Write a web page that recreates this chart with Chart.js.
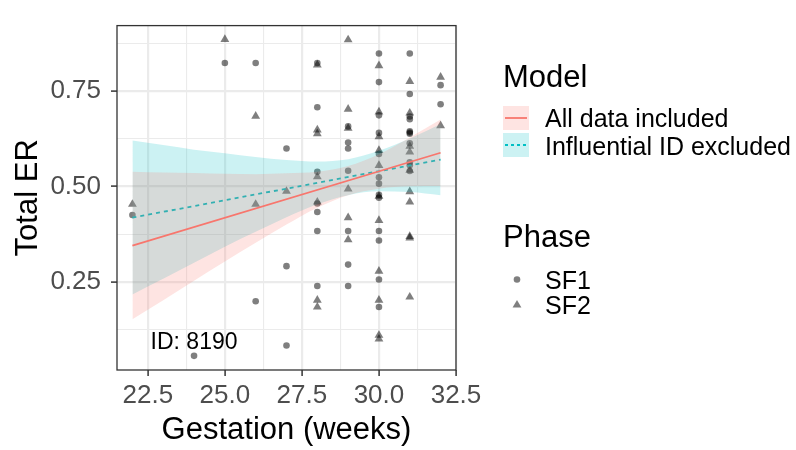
<!DOCTYPE html>
<html><head><meta charset="utf-8">
<script src="https://cdn.jsdelivr.net/npm/chart.js@4.4.1/dist/chart.umd.min.js"></script>
<style>html,body{margin:0;padding:0;background:#fff;}#c{display:block;}</style>
</head><body>
<canvas id="c" width="796" height="450"></canvas>
<script>
// ---------- data ----------
const sf1Gestation = [22,24,25,26,26,27,27,27,
  28,28,28,28,28,28,28,
  29,29,29,29,29,29,29,
  30,30,30,30,30,30,30,30,30,30,30,30,30,
  31,31,31,31,31,31,31,31,31,31,31,
  32,32];
const sf1ER = [0.425,0.056,0.823,0.823,0.199,0.599,0.291,0.083,
  0.823,0.707,0.538,0.455,0.433,0.383,0.239,
  0.657,0.615,0.599,0.541,0.383,0.295,0.239,
  0.848,0.773,0.686,0.640,0.585,0.524,0.507,0.478,0.470,0.383,0.358,0.256,0.184,
  0.848,0.742,0.683,0.676,0.644,0.641,0.638,0.613,0.563,0.555,0.540,
  0.765,0.715];

const sf2Gestation = [22,25,26,26,27,
  28,28,28,28,28,28,28,
  29,29,29,29,29,29,
  30,30,30,30,30,30,30,30,30,30,30,
  31,31,31,31,31,31,31,31,31,31,
  32,32];
const sf2ER = [0.453,0.885,0.684,0.453,0.487,
  0.818,0.648,0.638,0.525,0.459,0.202,0.184,
  0.884,0.702,0.652,0.493,0.418,0.360,
  0.816,0.695,0.630,0.594,0.555,0.474,0.411,0.278,0.202,0.110,0.100,
  0.775,0.692,0.605,0.590,0.542,0.486,0.459,0.369,0.365,0.210,
  0.786,0.659];

// model fits and 95% bands
const bandGestation = [22,23,24,25,26,27,28,29,30,31,32];
const allUpper  = [0.538,0.536,0.535,0.533,0.532,0.534,0.538,0.553,0.584,0.628,0.675];
const allLower  = [0.152,0.202,0.253,0.303,0.352,0.400,0.444,0.477,0.494,0.500,0.501];
const exclUpper = [0.620,0.608,0.596,0.587,0.577,0.569,0.565,0.571,0.593,0.625,0.663];
const exclLower = [0.217,0.258,0.300,0.342,0.381,0.419,0.453,0.477,0.487,0.485,0.477];
const fitGestation = [22,32];
const allFit  = [0.345,0.588];
const exclFit = [0.418,0.570];

// ticks
const xMajorTicks = [22.5,25,27.5,30,32.5];
const xTickLabels = ['22.5','25.0','27.5','30.0','32.5'];
const xMinorTicks = [23.75,26.25,28.75,31.25];
const yMajorTicks = [0.25,0.5,0.75];
const yTickLabels = ['0.25','0.50','0.75'];
const yMinorTicks = [0.125,0.375,0.625,0.875];

const modelLabels = ['All data included','Influential ID excluded'];
const phaseLabels = ['SF1','SF2'];
const annotationText = 'ID: 8190';
const annotationGestation = 24;
const annotationER = 0.074;

// ---------- helpers ----------
const FONT = '"Liberation Sans", Arial, Helvetica, sans-serif';
const pts = (xs, ys) => xs.map((x,i)=>({x:x, y:ys[i]}));
const isIn = (v, arr) => arr.some(a => Math.abs(a - v) < 1e-9);
const PINK = '#F8766D', TEAL = '#00BFC4';
const PINK_FILL = 'rgba(248,118,109,0.2)', TEAL_FILL = 'rgba(0,191,196,0.2)';
const NONE = 'rgba(0,0,0,0)';
const TICK_SIZE = 26, TITLE_SIZE = 31, LEGEND_SIZE = 25;

const gridOpts = (majors) => ({
  color: '#EBEBEB',
  lineWidth: c => (c.tick && isIn(c.tick.value, majors)) ? 2.2 : 1.1,
  tickColor: c => (c.tick && isIn(c.tick.value, majors)) ? '#333333' : NONE,
  tickWidth: 1.5,
  tickLength: 6,
  drawTicks: true
});

const overlay = {
  id: 'ggOverlay',
  afterDraw(chart) {
    const ctx = chart.ctx, a = chart.chartArea;
    const xs = chart.scales.x, ys = chart.scales.y;
    ctx.save();
    // panel border
    ctx.strokeStyle = '#333333'; ctx.lineWidth = 1.3;
    ctx.strokeRect(a.left, a.top, a.right - a.left, a.bottom - a.top);
    // annotation
    ctx.fillStyle = '#000'; ctx.textAlign = 'center'; ctx.textBaseline = 'alphabetic';
    ctx.font = '23px ' + FONT;
    ctx.fillText(annotationText, xs.getPixelForValue(annotationGestation), ys.getPixelForValue(annotationER));
    // legend: Model
    ctx.textAlign = 'left';
    ctx.font = TITLE_SIZE + 'px ' + FONT;
    ctx.fillText('Model', 503, 87);
    ctx.fillStyle = PINK_FILL; ctx.fillRect(503, 106, 26, 24);
    ctx.fillStyle = TEAL_FILL; ctx.fillRect(503, 133, 26, 24);
    ctx.lineWidth = 1.8;
    ctx.strokeStyle = PINK; ctx.beginPath(); ctx.moveTo(505, 118); ctx.lineTo(527, 118); ctx.stroke();
    ctx.strokeStyle = TEAL; ctx.setLineDash([3,3]); ctx.beginPath(); ctx.moveTo(505, 145); ctx.lineTo(527, 145); ctx.stroke();
    ctx.setLineDash([]);
    ctx.fillStyle = '#000'; ctx.font = LEGEND_SIZE + 'px ' + FONT;
    ctx.fillText(modelLabels[0], 545, 127);
    ctx.fillText(modelLabels[1], 545, 155);
    // legend: Phase
    ctx.font = TITLE_SIZE + 'px ' + FONT;
    ctx.fillText('Phase', 503, 247);
    ctx.font = LEGEND_SIZE + 'px ' + FONT;
    ctx.fillText(phaseLabels[0], 545, 288.5);
    ctx.fillText(phaseLabels[1], 545, 314);
    ctx.fillStyle = 'rgba(0,0,0,0.5)';
    Chart.helpers.drawPoint(ctx, {pointStyle:'circle', radius:3.3, rotation:0, borderWidth:0}, 517, 279.5);
    Chart.helpers.drawPoint(ctx, {pointStyle:'triangle', radius:5.1, rotation:0, borderWidth:0}, 517, 305);
    ctx.restore();
  }
};

new Chart(document.getElementById('c'), {
  type: 'scatter',
  data: {
    datasets: [
      {label:'all fit', data: pts(fitGestation, allFit), showLine:true, borderColor: PINK, borderWidth:1.8, pointRadius:0, fill:false, order:0},
      {label:'all upper', data: pts(bandGestation, allUpper), showLine:true, borderColor: NONE, borderWidth:0, pointRadius:0, cubicInterpolationMode:'monotone', fill:{target:2}, backgroundColor: PINK_FILL, order:1},
      {label:'all lower', data: pts(bandGestation, allLower), showLine:true, borderColor: NONE, borderWidth:0, pointRadius:0, cubicInterpolationMode:'monotone', fill:false, order:2},
      {label:'excl fit', data: pts(fitGestation, exclFit), showLine:true, borderColor: TEAL, borderWidth:1.8, borderDash:[4,4], pointRadius:0, fill:false, order:3},
      {label:'excl upper', data: pts(bandGestation, exclUpper), showLine:true, borderColor: NONE, borderWidth:0, pointRadius:0, cubicInterpolationMode:'monotone', fill:{target:5}, backgroundColor: TEAL_FILL, order:4},
      {label:'excl lower', data: pts(bandGestation, exclLower), showLine:true, borderColor: NONE, borderWidth:0, pointRadius:0, cubicInterpolationMode:'monotone', fill:false, order:5},
      {label:'SF2', data: pts(sf2Gestation, sf2ER), pointStyle:'triangle', pointRadius:5.1, backgroundColor:'rgba(0,0,0,0.5)', borderWidth:0, borderColor:NONE, order:6},
      {label:'SF1', data: pts(sf1Gestation, sf1ER), pointStyle:'circle', pointRadius:3.3, backgroundColor:'rgba(0,0,0,0.5)', borderWidth:0, borderColor:NONE, order:7}
    ]
  },
  options: {
    responsive: false,
    animation: false,
    devicePixelRatio: 1,
    layout: {padding: {top: 8, right: 340, left: 0, bottom: 0}},
    plugins: {legend:{display:false}, tooltip:{enabled:false}, filler:{drawTime:'beforeDatasetDraw'}},
    elements: {point:{hoverRadius:0}},
    scales: {
      x: {
        type:'linear', min:21.5, max:32.5,
        afterBuildTicks: s => { s.ticks = xMajorTicks.concat(xMinorTicks).sort((a,b)=>a-b).map(v=>({value:v})); },
        afterFit: s => { s.height = 80; },
        ticks: {autoSkip:false, maxRotation:0, padding:4, color:'#4D4D4D', font:{family:FONT, size:TICK_SIZE},
          callback: v => { const i = xMajorTicks.findIndex(a=>Math.abs(a-v)<1e-9); return i>=0 ? xTickLabels[i] : ''; }},
        grid: gridOpts(xMajorTicks),
        border: {display:false},
        title: {display:true, text:'Gestation (weeks)', color:'#000', font:{family:FONT, size:TITLE_SIZE, lineHeight:1.2}, padding:{top:0, bottom:1}}
      },
      y: {
        type:'linear', min:0.019, max:0.921,
        afterBuildTicks: s => { s.ticks = yMajorTicks.concat(yMinorTicks).sort((a,b)=>a-b).map(v=>({value:v})); },
        afterFit: s => { s.width = 117; },
        ticks: {autoSkip:false, padding:10, color:'#4D4D4D', font:{family:FONT, size:TICK_SIZE},
          callback: v => { const i = yMajorTicks.findIndex(a=>Math.abs(a-v)<1e-9); return i>=0 ? yTickLabels[i] : ''; }},
        grid: gridOpts(yMajorTicks),
        border: {display:false},
        title: {display:true, text:'Total ER', color:'#000', font:{family:FONT, size:TITLE_SIZE, lineHeight:1.2}, padding:{top:10, bottom:0}}
      }
    }
  },
  plugins: [overlay]
});
</script>
</body></html>
